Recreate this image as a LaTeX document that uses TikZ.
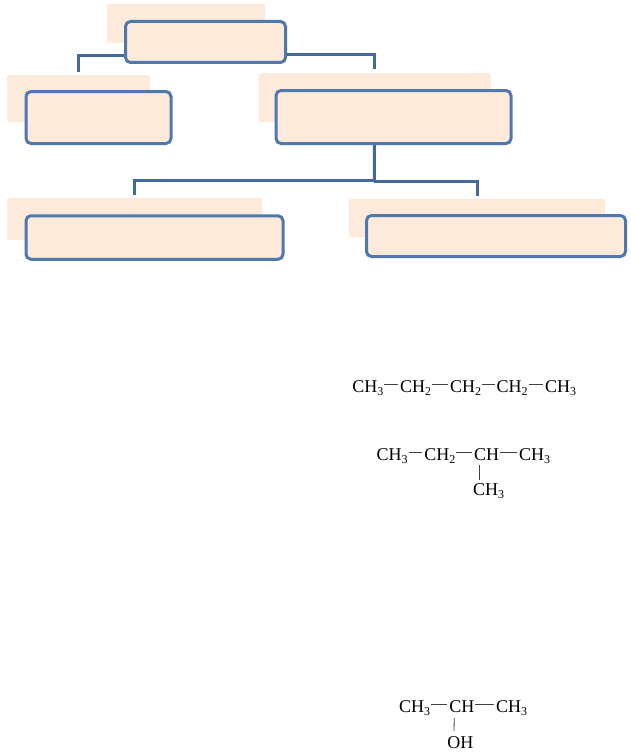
\documentclass[tikz,border=0pt]{standalone}
\usepackage{fontspec}
\setmainfont{Liberation Serif}
\definecolor{paleorange}{HTML}{FDEADA}
\definecolor{boxblue}{HTML}{4F78AE}
\definecolor{linkblue}{HTML}{43699C}
\newcommand{\subnum}[1]{\raisebox{-3.5pt}{\fontsize{12}{12}\selectfont #1}}
\tikzset{
  backbox/.style={fill=paleorange,rounded corners=1.5pt,inner sep=0pt},
  mainbox/.style={draw=boxblue,fill=paleorange,line width=3pt,rounded corners=5pt,inner sep=0pt},
  link/.style={draw=linkblue,line width=3pt},
  chem/.style={anchor=base west,inner sep=0pt,outer sep=0pt,text height=15pt,text depth=0pt,font=\fontsize{18}{18}\selectfont},
  bond/.style={draw=black!75,line width=0.8pt,shorten <=1pt,shorten >=2pt}
}
\begin{document}
\begin{tikzpicture}[x=1pt, y=-1pt]
  \useasboundingbox (0,0) rectangle (631,752);

  % back boxes
  \foreach \m/\x/\y/\w/\h in {root/186/23.5/158/39,left/78.5/98.5/143/47,right/374.5/97.5/232/49,low1/134.5/219/255/42,low2/477/218/256/38}
      \node [backbox,minimum width=\w pt,minimum height=\h pt] (\m-back) at (\x,\y) {};

  % front boxes
  \foreach \m/\x/\y/\w/\h in {root/205.5/42/160/41,left/98.5/117.5/145/52,right/393.5/117/235/53,low1/154.5/237.5/257/43.5,low2/496/236/259/41}
      \node [mainbox,minimum width=\w pt,minimum height=\h pt] (\m-box) at (\x,\y) {};

  % connectors
  \coordinate (fork) at (374.3,180);
  \draw [link,shorten >=3pt] ([yshift=-14pt]root-box.west) -| (left-back.north);
  \draw [link,shorten >=4pt] ([yshift=-13pt]root-box.east) -| (right-back.north);
  \draw [link] (right-back.north |- right-box.south) -- (fork);
  \draw [link,shorten >=3pt] (fork) -| (low1-back.north);
  \draw [link,shorten >=3pt] ([yshift=-1.5pt]fork) -| (low2-back.north);

  % first formula
  \foreach \m/\x/\l in {1/352.3/CH\subnum{3},2/400/CH\subnum{2},3/450/CH\subnum{2},4/496.7/CH\subnum{2},5/545/CH\subnum{3}}
      \node [chem] (pent-\m) at (\x,392) {\l};
  \foreach \m/\n in {1/2,2/3,3/4,4/5}
      \draw [bond] (pent-\m) -- (pent-\n);

  % second formula
  \foreach \m/\x/\l in {1/376.7/CH\subnum{3},2/424.3/CH\subnum{2},3/474/CH,4/519/CH\subnum{3}}
      \node [chem] (mbut-\m) at (\x,460) {\l};
  \node [chem] (mbut-5) at (473,495) {CH\subnum{3}};
  \foreach \m/\n in {1/2,2/3,3/4}
      \draw [bond] (mbut-\m) -- (mbut-\n);
  \draw [bond,shorten <=5pt,shorten >=0pt] ([xshift=5pt]mbut-3.south west) -- ([xshift=6pt]mbut-5.north west);

  % third formula
  \foreach \m/\x/\l in {1/399/CH\subnum{3},2/449.3/CH,3/496/CH\subnum{3}}
      \node [chem] (prop-\m) at (\x,712) {\l};
  \node [chem] (prop-4) at (447.3,748) {OH};
  \foreach \m/\n in {1/2,2/3}
      \draw [bond] (prop-\m) -- (prop-\n);
  \draw [bond,shorten <=6pt,shorten >=2pt] ([xshift=5pt]prop-2.south west) -- ([xshift=6.7pt]prop-4.north west);

\end{tikzpicture}
\end{document}
